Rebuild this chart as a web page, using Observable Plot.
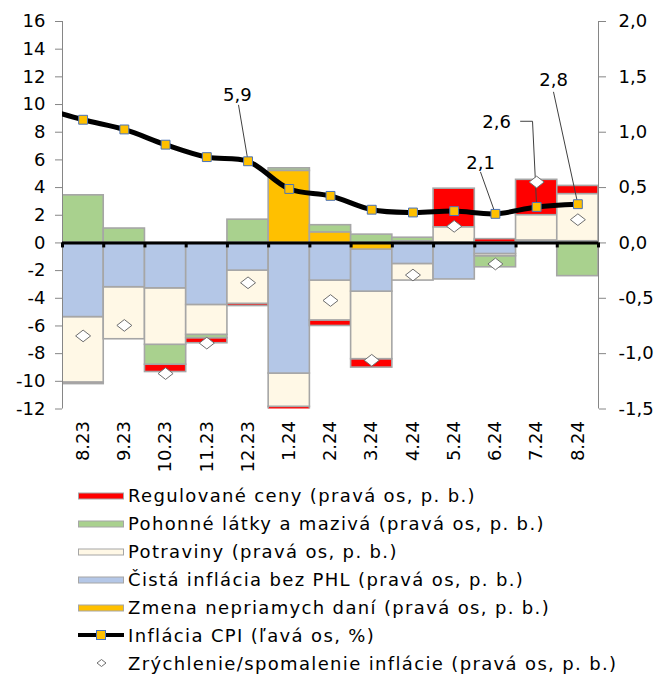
<!DOCTYPE html>
<html><head><meta charset="utf-8">
<script src="https://cdn.jsdelivr.net/npm/d3@7"></script>
<script src="https://cdn.jsdelivr.net/npm/@observablehq/plot@0.6"></script>
<style>
html,body{margin:0;padding:0;background:#fff;overflow:hidden;}
body{font-family:"DejaVu Sans",Verdana,sans-serif;color:#000;}
#legend{padding-top:2px;}
.row{position:relative;height:27.9px;display:flex;align-items:center;font-size:18px;letter-spacing:1.35px;white-space:nowrap;}
.row svg{position:absolute;left:78px;top:0;}
.row span{position:absolute;left:128px;}
</style></head><body>
<div id="chart"></div>
<div id="legend"></div>
<script>
// ---- data ----
const months = ["8.23","9.23","10.23","11.23","12.23","1.24","2.24","3.24","4.24","5.24","6.24","7.24","8.24"];
// contributions, percentage points (right axis)
const regulovane = [-0.015, 0, -0.066, -0.046, -0.02, -1.19, -0.05, -0.076, 0, 0.35, 0.034, 0.32, 0.075];
const pohonne    = [0.43, 0.13, -0.18, -0.03, 0.21, 0.024, 0.066, 0.075, 0.035, 0, -0.10, 0, -0.30];
const potraviny  = [-0.59, -0.47, -0.51, -0.27, -0.30, -0.30, -0.36, -0.61, -0.15, 0.14, -0.02, 0.23, 0.425];
const cista      = [-0.67, -0.40, -0.41, -0.56, -0.25, -1.18, -0.34, -0.38, -0.19, -0.33, -0.10, 0.02, 0.015];
const dane       = [0, 0, 0, 0, 0, 0.65, 0.094, -0.06, 0.012, 0, 0, 0, 0];
// CPI inflation, % (left axis); previous month (7.23) continues the line off the left edge
const cpiPrev = 9.74;
const cpi = [8.9, 8.2, 7.1, 6.2, 5.9, 3.9, 3.4, 2.4, 2.2, 2.3, 2.1, 2.6, 2.8];
// acceleration / deceleration of inflation, p. b. (right axis)
const zmena = [-0.84, -0.745, -1.18, -0.905, -0.36, -2.0, -0.52, -1.06, -0.29, 0.15, -0.19, 0.55, 0.21];

const leftTicks = d3.range(-12, 17, 2);
const rightTicks = d3.range(-12, 17, 4);
const ratio = 8; // left units per right unit

const seriesNames = [
  "Regulované ceny (pravá os, p. b.)",
  "Pohonné látky a mazivá (pravá os, p. b.)",
  "Potraviny (pravá os, p. b.)",
  "Čistá inflácia bez PHL (pravá os, p. b.)",
  "Zmena nepriamych daní (pravá os, p. b.)"
];
const seriesValues = [regulovane, pohonne, potraviny, cista, dane];
const seriesColors = ["#ff0000", "#a9d18e", "#fff8e6", "#b4c7e7", "#ffc000"];
const lineName = "Inflácia CPI (ľavá os, %)";
const diamondName = "Zrýchlenie/spomalenie inflácie (pravá os, p. b.)";
const stackOrder = [seriesNames[4], seriesNames[3], seriesNames[2], seriesNames[1], seriesNames[0]];

// annotation placement (label position and leader bends, in chart units)
const annotations = [
  {i: 4, tx: 3.74, ty: 10.7, bends: [[3.77, 9.95]]},
  {i: 10, tx: 9.64, ty: 5.76, bends: [[9.64, 5.11]]},
  {i: 11, tx: 10.03, ty: 8.72, bends: [[10.61, 8.79], [10.9, 8.79]]},
  {i: 12, tx: 11.41, ty: 11.76, bends: [[11.41, 10.89]]}
];

// ---- tables ----
const bars = [];
months.forEach((m, i) => {
  seriesNames.forEach((s, k) => {
    const v = seriesValues[k][i];
    if (v !== 0) bars.push({i, x1: i - 0.5, x2: i + 0.5, series: s, value: v * ratio});
  });
});
const linePts = [{i: -1, v: cpiPrev}, ...cpi.map((v, i) => ({i, v}))];
const cpiPts = cpi.map((v, i) => ({i, v}));
const diamonds = zmena.map((v, i) => ({i, v: v * ratio}));
const boundaries = d3.range(0, 14).map(k => k - 0.5);
const leaders = [];
annotations.forEach((a, n) => {
  a.bends.forEach(([x, y]) => leaders.push({n, x, y}));
  leaders.push({n, x: a.i, y: cpi[a.i]});
});
const labels = annotations.map(a => ({x: a.tx, y: a.ty, t: cpi[a.i].toFixed(1).replace(".", ",")}));

const diamondSymbol = {
  draw(ctx, size) {
    const w = Math.sqrt(size / Math.PI), h = w * 0.78;
    ctx.moveTo(0, -h); ctx.lineTo(w, 0); ctx.lineTo(0, h); ctx.lineTo(-w, 0); ctx.closePath();
  }
};

const axisGray = "#868686";
const fontSize = 18;

const chart = Plot.plot({
  width: 656,
  height: 480,
  marginLeft: 62,
  marginRight: 58,
  marginTop: 21,
  marginBottom: 71.5,
  style: {fontFamily: '"DejaVu Sans", Verdana, sans-serif', fontSize: fontSize + "px", background: "#fff", overflow: "hidden"},
  x: {type: "linear", domain: [-0.5, 12.5], axis: null},
  y: {domain: [-12, 16], axis: null},
  color: {domain: seriesNames, range: seriesColors},
  marks: [
    Plot.rectY(bars, Plot.stackY({
      x1: "x1", x2: "x2", y: "value", z: "series", fill: "series",
      order: stackOrder, stroke: "#a6a6a6", strokeWidth: 1.6, clip: true
    })),
    Plot.ruleX([-0.5, 12.5], {stroke: axisGray, strokeWidth: 1}),
    Plot.axisY({anchor: "left", ticks: leftTicks, tickFormat: d => String(d), tickSize: 7, tickPadding: 10, stroke: axisGray, fill: "#000", fontSize}),
    Plot.axisY({anchor: "right", ticks: rightTicks, tickFormat: d => (d / ratio).toFixed(1).replace(".", ","), tickSize: 7, tickPadding: 13, stroke: axisGray, fill: "#000", fontSize}),
    Plot.axisX({anchor: "bottom", ticks: d3.range(0, 13), tickFormat: i => months[i], tickRotate: -90, tickSize: 0, tickPadding: 12, fill: "#000", fontSize}),
    Plot.ruleY([0], {stroke: "#000", strokeWidth: 3}),
    Plot.ruleX(boundaries, {x: d => d, y1: 0, y2: 0, insetBottom: -5, stroke: "#000", strokeWidth: 3}),
    Plot.line(linePts, {x: "i", y: "v", stroke: "#000", strokeWidth: 5, curve: "catmull-rom", clip: true}),
    Plot.line(leaders, {x: "x", y: "y", z: "n", stroke: "#404040", strokeWidth: 1}),
    Plot.dot(cpiPts, {x: "i", y: "v", symbol: "square", r: 5, fill: "#ffc000", stroke: "#4a72b8", strokeWidth: 1}),
    Plot.dot(diamonds, {x: "i", y: "v", symbol: diamondSymbol, r: 7.5, fill: "#fff", stroke: "#6e6e6e", strokeWidth: 1, clip: true}),
    Plot.text(labels, {x: "x", y: "y", text: "t", fill: "#000", fontSize})
  ]
});
document.getElementById("chart").appendChild(chart);

// ---- legend ----
const legend = document.getElementById("legend");
function addRow(swatchSvg, label) {
  const row = document.createElement("div");
  row.className = "row";
  row.innerHTML = swatchSvg + `<span>${label}</span>`;
  legend.appendChild(row);
}
seriesNames.forEach((s, k) => {
  addRow(`<svg width="46" height="27.9"><rect x="0.5" y="11" width="45" height="6" fill="${seriesColors[k]}" stroke="#a6a6a6" stroke-width="1"/></svg>`, s);
});
addRow(`<svg width="46" height="27.9"><line x1="0" x2="46" y1="14" y2="14" stroke="#000" stroke-width="4"/><rect x="18.5" y="9.5" width="9" height="9" fill="#ffc000" stroke="#4a72b8" stroke-width="1"/></svg>`, lineName);
addRow(`<svg width="46" height="27.9"><path d="M19,14 L23.5,10.5 L28,14 L23.5,17.5 Z" fill="#fff" stroke="#6e6e6e" stroke-width="1"/></svg>`, diamondName);
</script>
</body></html>
